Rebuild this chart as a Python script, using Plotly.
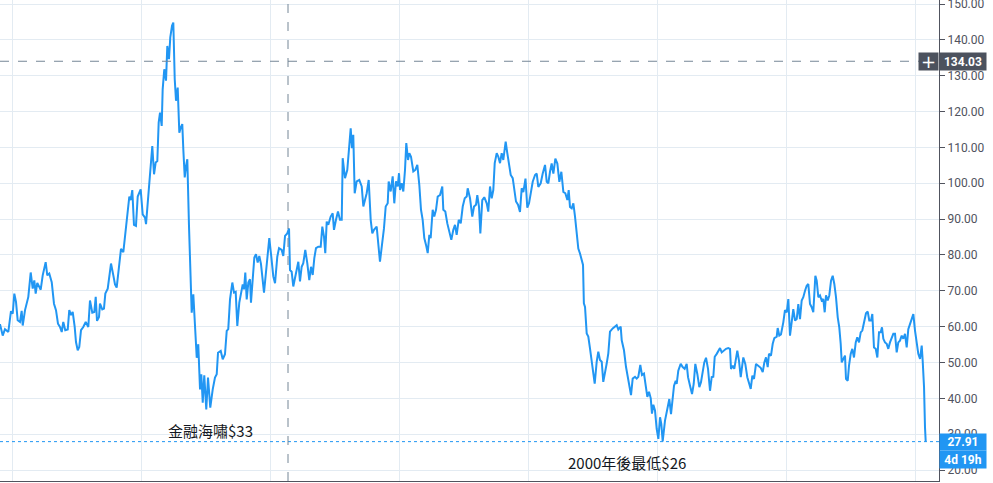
import plotly.graph_objects as go

# Weekly crude oil price (decimal year, USD)
years = [
    2005.814, 2005.856, 2005.891, 2005.943, 2005.984, 2006.011, 2006.036, 2006.062, 2006.088, 2006.124,
    2006.150, 2006.166, 2006.202, 2006.253, 2006.290, 2006.321, 2006.346, 2006.367, 2006.392, 2006.423,
    2006.445, 2006.476, 2006.522, 2006.547, 2006.578, 2006.616, 2006.651, 2006.682, 2006.713, 2006.744,
    2006.771, 2006.795, 2006.826, 2006.864, 2006.888, 2006.915, 2006.941, 2006.972, 2006.992, 2007.019,
    2007.043, 2007.070, 2007.105, 2007.143, 2007.183, 2007.209, 2007.245, 2007.276, 2007.298, 2007.318,
    2007.349, 2007.364, 2007.400, 2007.426, 2007.447, 2007.484, 2007.535, 2007.571, 2007.597, 2007.623,
    2007.664, 2007.690, 2007.726, 2007.752, 2007.788, 2007.819, 2007.840, 2007.865, 2007.891, 2007.922,
    2007.949, 2007.984,
    2007.995, 2008.026, 2008.062, 2008.078, 2008.113, 2008.140, 2008.175, 2008.202, 2008.228, 2008.253,
    2008.274, 2008.295, 2008.321, 2008.336, 2008.361, 2008.388, 2008.408, 2008.434, 2008.454, 2008.481,
    2008.501, 2008.523, 2008.543, 2008.569, 2008.594, 2008.616, 2008.640, 2008.656, 2008.678, 2008.698,
    2008.718, 2008.744, 2008.764, 2008.786, 2008.811, 2008.842, 2008.864, 2008.888, 2008.915, 2008.935,
    2008.957, 2008.981, 2009.012, 2009.039, 2009.074, 2009.112, 2009.147, 2009.174, 2009.194, 2009.236,
    2009.267, 2009.302, 2009.329, 2009.353, 2009.380, 2009.416, 2009.442, 2009.468, 2009.493, 2009.524,
    2009.550, 2009.577, 2009.597, 2009.617, 2009.639, 2009.664, 2009.690, 2009.705, 2009.732, 2009.757,
    2009.783, 2009.809, 2009.834, 2009.860, 2009.907, 2009.938, 2009.989, 2010.020, 2010.051, 2010.078,
    2010.113, 2010.140, 2010.181, 2010.206, 2010.233, 2010.268, 2010.295, 2010.310, 2010.336, 2010.361,
    2010.388, 2010.414, 2010.439, 2010.465, 2010.491, 2010.516, 2010.547, 2010.578, 2010.609, 2010.636,
    2010.662, 2010.687, 2010.713, 2010.749, 2010.786, 2010.811, 2010.837, 2010.857, 2010.879, 2010.904,
    2010.941, 2010.972, 2010.992, 2011.023, 2011.054, 2011.085, 2011.112, 2011.127, 2011.163, 2011.198,
    2011.229, 2011.251, 2011.271, 2011.291, 2011.313, 2011.344, 2011.384, 2011.422, 2011.447, 2011.473,
    2011.499, 2011.530, 2011.561, 2011.586, 2011.612, 2011.654, 2011.679, 2011.705, 2011.736, 2011.767,
    2011.794, 2011.825, 2011.840, 2011.871, 2011.902, 2011.927, 2011.953, 2011.980, 2012.000, 2012.016,
    2012.042, 2012.067, 2012.093, 2012.113, 2012.140, 2012.160, 2012.186, 2012.222, 2012.253, 2012.284,
    2012.315, 2012.341, 2012.367, 2012.392, 2012.419, 2012.445, 2012.470, 2012.491, 2012.522, 2012.547,
    2012.574, 2012.600, 2012.636, 2012.671, 2012.687, 2012.718, 2012.749, 2012.780, 2012.811, 2012.842,
    2012.868, 2012.894, 2012.926, 2012.957, 2012.988, 2013.019, 2013.050, 2013.065, 2013.101, 2013.136,
    2013.163, 2013.194, 2013.214, 2013.240, 2013.261, 2013.291, 2013.322, 2013.360, 2013.384, 2013.411,
    2013.437, 2013.462, 2013.484, 2013.515, 2013.540, 2013.566, 2013.592, 2013.617, 2013.654, 2013.679,
    2013.705, 2013.732, 2013.763, 2013.788, 2013.814, 2013.845, 2013.876, 2013.902, 2013.928, 2013.961,
    2013.989, 2014.016, 2014.047, 2014.073, 2014.109, 2014.135, 2014.160, 2014.197, 2014.228, 2014.264,
    2014.290, 2014.315, 2014.341, 2014.367, 2014.393, 2014.424, 2014.455, 2014.486, 2014.517, 2014.548,
    2014.579, 2014.610, 2014.631, 2014.651, 2014.678, 2014.703, 2014.729, 2014.755, 2014.780, 2014.806,
    2014.833, 2014.853, 2014.866, 2014.884, 2014.910, 2014.935, 2014.961, 2014.988, 2015.012, 2015.034,
    2015.065, 2015.090, 2015.116, 2015.143, 2015.167, 2015.194, 2015.220, 2015.245, 2015.271, 2015.313,
    2015.349, 2015.375, 2015.400, 2015.437, 2015.453, 2015.488, 2015.519, 2015.555, 2015.597, 2015.623,
    2015.659, 2015.685, 2015.710, 2015.741, 2015.767, 2015.798, 2015.829, 2015.850, 2015.876, 2015.903,
    2015.922, 2015.943, 2015.969, 2015.995, 2016.021, 2016.047, 2016.067, 2016.088, 2016.124, 2016.160,
    2016.191, 2016.217, 2016.243, 2016.264, 2016.290, 2016.305, 2016.330, 2016.367, 2016.398, 2016.429,
    2016.460, 2016.481, 2016.512, 2016.543, 2016.569, 2016.594, 2016.625, 2016.656, 2016.682, 2016.709,
    2016.733, 2016.760, 2016.791, 2016.822, 2016.848, 2016.873, 2016.895, 2016.926, 2016.950, 2016.977,
    2017.003, 2017.039, 2017.070, 2017.105, 2017.132, 2017.147, 2017.174, 2017.198, 2017.220, 2017.245,
    2017.271, 2017.298, 2017.318, 2017.338, 2017.369, 2017.400, 2017.431, 2017.453, 2017.478, 2017.504,
    2017.535, 2017.571, 2017.608, 2017.639, 2017.664, 2017.690, 2017.716, 2017.736, 2017.767, 2017.794,
    2017.819, 2017.856, 2017.871, 2017.896, 2017.922, 2017.958, 2017.984, 2018.011, 2018.036, 2018.062,
    2018.088, 2018.113, 2018.140, 2018.166, 2018.191, 2018.217, 2018.243, 2018.268, 2018.295, 2018.321,
    2018.346, 2018.372, 2018.398, 2018.423, 2018.455, 2018.476, 2018.501, 2018.527, 2018.553, 2018.578,
    2018.600, 2018.620, 2018.647, 2018.671, 2018.698, 2018.724, 2018.749, 2018.775, 2018.802, 2018.826,
    2018.848, 2018.864, 2018.889, 2018.915, 2018.930, 2018.957, 2018.977, 2019.003, 2019.028, 2019.054,
    2019.081, 2019.105, 2019.132, 2019.158, 2019.183, 2019.209, 2019.240, 2019.267, 2019.291, 2019.318,
    2019.338, 2019.364, 2019.391, 2019.416, 2019.442, 2019.468, 2019.488, 2019.509, 2019.535, 2019.561,
    2019.586, 2019.612, 2019.639, 2019.664, 2019.690, 2019.716, 2019.741, 2019.767, 2019.794, 2019.819,
    2019.845, 2019.871, 2019.896, 2019.922, 2019.949, 2019.974, 2020.000, 2020.026, 2020.051, 2020.078,
    2020.104, 2020.119, 2020.140, 2020.155, 2020.166,
]
prices = [
    60.7, 57.5, 59.3, 58.5, 64.3, 63.6, 69.2, 66.9, 61.8, 61.3,
    64.4, 60.3, 64.6, 68.3, 75.1, 70.6, 72.9, 69.2, 72.2, 71.0,
    70.3, 74.3, 78.0, 74.3, 74.8, 72.4, 66.4, 64.6, 60.8, 59.9,
    58.5, 61.3, 59.0, 59.2, 64.6, 63.2, 64.1, 59.9, 55.7, 53.4,
    54.3, 59.0, 59.9, 61.3, 59.9, 67.3, 63.9, 64.1, 68.3, 61.6,
    62.7, 66.4, 64.8, 65.0, 69.2, 70.6, 77.6, 74.3, 71.8, 70.9,
    76.6, 81.7, 80.8, 85.2, 91.6, 96.3, 95.3, 98.1, 88.4, 88.1,
    96.3, 97.7,
    98.3, 91.3, 90.4, 88.6, 96.5, 102.0, 110.4, 102.5, 105.8, 106.2,
    116.9, 119.7, 116.0, 126.2, 131.8, 128.6, 138.3, 134.6, 140.7, 143.9,
    144.8, 129.0, 123.0, 126.7, 114.1, 115.5, 116.5, 109.5, 101.6, 104.8,
    106.7, 88.1, 74.2, 63.9, 69.0, 56.5, 51.3, 55.1, 42.5, 46.7,
    38.8, 46.4, 36.9, 45.8, 37.4, 42.5, 45.8, 46.7, 52.7, 53.2,
    50.9, 52.3, 58.8, 59.3, 67.6, 72.3, 69.5, 69.7, 60.2, 66.7,
    69.0, 71.8, 70.4, 75.1, 67.6, 72.3, 73.2, 66.7, 73.2, 79.3,
    80.2, 77.9, 79.7, 77.5, 69.5, 75.8, 84.7, 79.5, 74.0, 72.1,
    79.5, 81.9, 81.4, 79.7, 85.3, 86.0, 87.4, 75.8, 75.3, 71.2,
    74.0, 76.7, 78.1, 72.6, 76.7, 77.7, 81.4, 77.7, 73.0, 76.7,
    74.4, 79.1, 81.9, 82.3, 82.3, 87.9, 85.1, 80.5, 89.3, 88.4,
    90.7, 91.6, 87.0, 89.8, 92.1, 89.8, 89.8, 107.0, 101.4, 103.7,
    111.6, 115.3, 109.8, 113.5, 97.2, 100.5, 100.9, 99.1, 93.5, 95.3,
    97.2, 100.9, 89.8, 86.0, 87.0, 87.9, 81.9, 78.1, 82.8, 87.4,
    93.5, 94.4, 100.5, 97.7, 101.9, 94.4, 100.5, 99.1, 102.8, 98.1,
    100.0, 97.7, 103.7, 111.2, 106.5, 108.4, 107.4, 103.3, 103.7, 105.1,
    99.5, 92.6, 89.8, 84.7, 82.8, 80.5, 85.6, 84.7, 92.6, 90.7,
    92.6, 96.3, 96.7, 99.1, 92.6, 92.1, 88.8, 86.5, 84.2, 87.0,
    88.4, 85.6, 89.8, 88.8, 93.5, 95.8, 96.3, 98.6, 95.8, 90.7,
    93.5, 94.0, 96.7, 93.5, 86.0, 95.3, 96.1, 94.4, 92.1, 99.1,
    95.8, 98.1, 105.6, 108.4, 107.4, 105.6, 108.4, 106.5, 111.6, 108.4,
    104.7, 102.3, 101.4, 98.6, 94.9, 94.0, 92.0, 98.6, 97.5, 101.3,
    93.2, 94.4, 98.1, 100.4, 102.3, 102.7, 99.0, 100.0, 102.7, 105.1,
    100.4, 100.0, 103.2, 105.5, 102.7, 106.9, 105.5, 100.4, 103.2, 97.6,
    97.2, 95.3, 98.1, 93.4, 93.0, 94.4, 90.7, 86.9, 81.8, 80.4,
    78.1, 77.2, 66.5, 65.5, 58.1, 57.2, 53.9, 50.2, 47.9, 44.1,
    50.2, 53.0, 50.7, 50.2, 44.6, 47.9, 49.7, 52.5, 58.6, 59.5,
    60.0, 60.4, 59.2, 60.0, 56.2, 53.4, 48.8, 45.1, 40.9, 45.5,
    46.0, 45.5, 46.0, 49.3, 46.5, 46.9, 43.2, 40.4, 41.8, 40.0,
    35.7, 38.2, 36.6, 31.5, 28.7, 34.7, 32.8, 28.0, 33.8, 37.5,
    39.8, 35.6, 40.3, 43.5, 44.9, 44.0, 47.7, 49.6, 48.7, 48.2,
    49.6, 45.9, 43.5, 41.2, 44.0, 49.6, 46.8, 43.1, 44.5, 47.7,
    50.0, 51.3, 48.2, 42.1, 45.9, 46.0, 51.6, 52.4, 53.3, 54.0,
    52.8, 53.5, 53.8, 54.0, 53.8, 48.2, 49.1, 48.2, 51.0, 53.3,
    50.5, 45.9, 48.7, 51.4, 49.6, 45.9, 44.0, 42.6, 46.3, 45.4,
    49.6, 49.1, 48.5, 47.3, 50.0, 51.4, 48.7, 52.4, 51.9, 55.2,
    56.8, 57.2, 59.6, 57.5, 57.8, 61.2, 64.6, 64.0, 67.7, 57.5,
    61.2, 64.9, 61.7, 62.1, 66.3, 62.1, 67.3, 68.2, 70.0, 71.4,
    71.9, 66.3, 65.4, 64.0, 74.2, 72.8, 68.2, 68.7, 67.3, 67.7,
    64.0, 68.7, 67.3, 68.7, 72.8, 74.2, 71.9, 68.2, 62.6, 59.8,
    55.2, 50.0, 51.0, 51.9, 45.4, 44.9, 49.1, 52.4, 53.8, 51.4,
    55.6, 57.0, 55.6, 58.4, 58.9, 61.2, 63.7, 64.2, 61.7, 61.7,
    63.5, 54.2, 53.8, 51.4, 58.4, 58.4, 59.8, 56.6, 55.6, 55.2,
    53.8, 55.6, 56.6, 58.0, 58.0, 52.8, 55.6, 56.1, 57.5, 56.6,
    58.0, 54.2, 59.3, 60.7, 62.1, 63.5, 58.9, 54.7, 52.4, 51.0,
    54.7, 50.5, 43.1, 31.9, 27.91,
]
assert len(years) == len(prices), (len(years), len(prices))

y_ticks = [20, 30, 40, 50, 60, 70, 80, 90, 100, 110, 120, 130, 140, 150]
last_price = prices[-1]
countdown = "4d 19h"
cross_year = 2010.279
cross_price = 134.03
note_crisis = "金融海嘯$33"
note_crisis_pos = (2009.07, 30.9)
note_low = "2000年後最低$26"
note_low_pos = (2015.535, 22.2)

BLUE = "#2196f3"
GRID = "#e3ebf2"
AXIS = "#50535e"
CROSS = "#758696"
DARK = "#4c525e"

fig = go.Figure()
fig.add_trace(go.Scatter(
    x=years, y=prices, mode="lines",
    line=dict(color=BLUE, width=2), hoverinfo="skip", showlegend=False,
))

fig.update_layout(
    width=993, height=483,
    margin=dict(l=0, r=54, t=0, b=2, pad=0),
    paper_bgcolor="white", plot_bgcolor="white",
    font=dict(family="Roboto, Noto Sans, sans-serif", size=12, color=AXIS),
    xaxis=dict(
        range=[2005.814, 2020.372], tick0=2006, dtick=2, automargin=False,
        showgrid=True, gridcolor=GRID, gridwidth=1,
        showticklabels=False, zeroline=False, ticks="",
        showline=True, linecolor=AXIS, linewidth=1,
    ),
    yaxis=dict(
        side="right", range=[16.93, 151.12], automargin=False,
        tickvals=y_ticks, ticktext=[f"{v:.2f}" for v in y_ticks],
        ticks="outside", ticklen=5, tickcolor=AXIS, ticklabeloverflow="allow",
        showgrid=True, gridcolor=GRID, gridwidth=1, zeroline=False,
        showline=True, linecolor=AXIS, linewidth=1,
        tickfont=dict(size=12, color=AXIS),
    ),
)

# last price dotted line
fig.add_shape(type="line", xref="paper", yref="y", x0=0, x1=1,
              y0=last_price, y1=last_price,
              line=dict(color=BLUE, width=1, dash="dot"), layer="above")
# crosshair
fig.add_shape(type="line", xref="x", yref="paper", x0=cross_year, x1=cross_year,
              y0=0, y1=1, line=dict(color=CROSS, width=1, dash="dash"), layer="above")
fig.add_shape(type="line", xref="paper", yref="y", x0=0, x1=0.981,
              y0=cross_price, y1=cross_price,
              line=dict(color=CROSS, width=1, dash="dash"), layer="above")

# axis labels (price boxes)
fig.add_annotation(xref="paper", yref="y", x=1, y=last_price, xanchor="left", yanchor="middle",
                   text=f"<b>{last_price:.2f}</b>", showarrow=False, bgcolor=BLUE,
                   font=dict(color="white", size=12), width=44, height=14, borderpad=1, align="center")
fig.add_annotation(xref="paper", yref="y", x=1, y=last_price, xanchor="left", yanchor="middle",
                   yshift=-18, text=f"<b>{countdown}</b>", showarrow=False, bgcolor=BLUE,
                   font=dict(color="white", size=12), width=44, height=15, borderpad=1, align="center")
fig.add_annotation(xref="paper", yref="y", x=1, y=cross_price, xanchor="left", yanchor="middle",
                   text=f"<b>{cross_price:.2f}</b>", showarrow=False, bgcolor=DARK,
                   font=dict(color="white", size=12), width=44, height=15, borderpad=1, align="center")
fig.add_annotation(xref="paper", yref="y", x=1, y=cross_price, xanchor="right", yanchor="middle",
                   text="+", showarrow=False, bgcolor=DARK,
                   font=dict(color="white", size=18, family="DejaVu Sans"),
                   width=17, height=15, borderpad=1, align="center")

# text notes
fig.add_annotation(x=note_crisis_pos[0], y=note_crisis_pos[1], text=note_crisis, showarrow=False,
                   font=dict(family="Noto Sans CJK TC", size=15, color="#131722"))
fig.add_annotation(x=note_low_pos[0], y=note_low_pos[1], text=note_low, showarrow=False,
                   font=dict(family="Noto Sans CJK TC", size=15, color="#131722"))

fig.write_html(
    "out.html",
    config={"displayModeBar": False},
    post_script="document.body.style.margin='0px';document.body.style.padding='0px';"
                "document.body.style.overflow='hidden';",
)
